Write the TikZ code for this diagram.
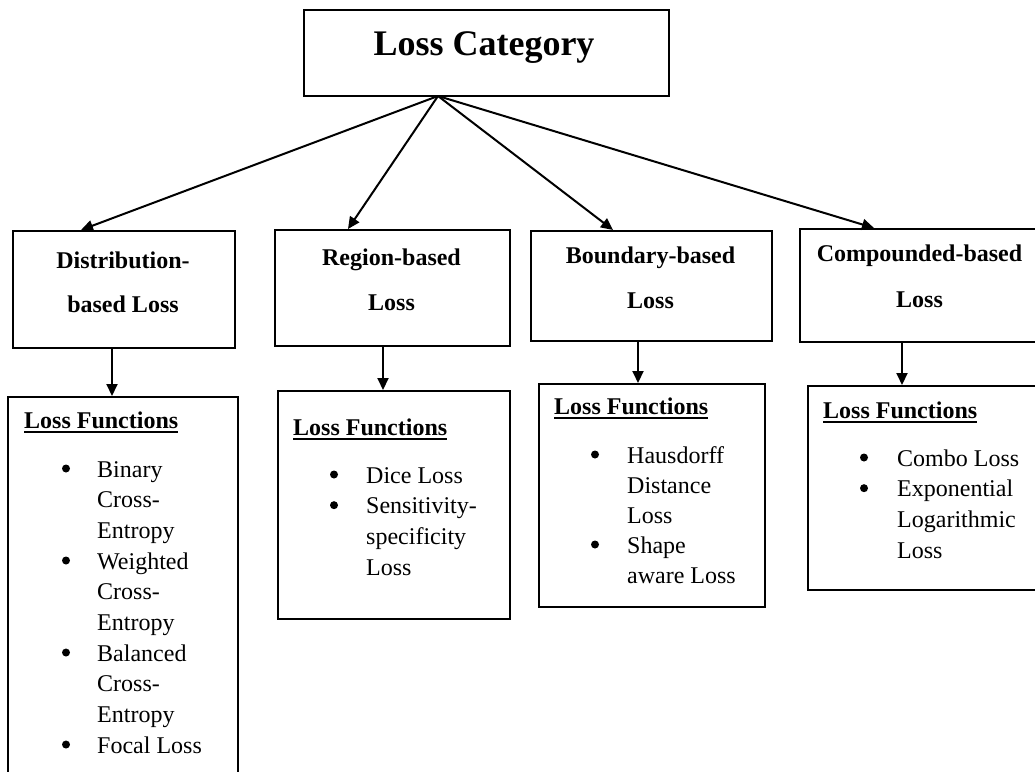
\documentclass[tikz,border=0pt]{standalone}
\usepackage{fontspec}
\setmainfont{Liberation Serif}
\usetikzlibrary{arrows.meta}
\begin{document}
\begin{tikzpicture}[x=1pt,y=-1pt,
  box/.style={draw=black, line width=2pt, anchor=north west, inner sep=0pt},
  arr/.style={line width=2pt, -{Triangle[length=12pt,width=11pt]}},
  lbl/.style={inner sep=0pt, anchor=base, font=\fontsize{24}{28}\selectfont\bfseries},
  hdr/.style={inner sep=0pt, anchor=base west, font=\fontsize{24}{28}\selectfont\bfseries},
  item/.style={inner sep=0pt, anchor=base west, font=\fontsize{24}{28}\selectfont},
  dot/.style={circle, fill=black, inner sep=0pt, minimum size=8pt},
  uline/.style={line width=1.6pt}
]
\clip (0,0) rectangle (1035,771);
\fill[white] (0,0) rectangle (1035,771);

% category boxes
\node[box, minimum width=365, minimum height=86] (top) at (303,9) {};
\node[box, minimum width=222, minimum height=117] (d1) at (12,230) {};
\node[box, minimum width=235, minimum height=116] (d2) at (274,229) {};
\node[box, minimum width=241, minimum height=110] (d3) at (530,230) {};
\node[box, minimum width=241, minimum height=113] (d4) at (799,228) {};

% loss function boxes
\node[box, minimum width=230, minimum height=400] (f1) at (7,396) {};
\node[box, minimum width=232, minimum height=228] (f2) at (277,390) {};
\node[box, minimum width=226, minimum height=223] (f3) at (538,383) {};
\node[box, minimum width=233, minimum height=204] (f4) at (807,385) {};

% title
\node[inner sep=0pt, anchor=base, font=\fontsize{36}{40}\selectfont\bfseries] (tt) at (484,55) {Loss Category};

% category labels
\node[lbl] (d1a) at (123,268) {Distribution-};
\node[lbl] (d1b) at (123,312) {based Loss};
\node[lbl] (d2a) at (391.5,265) {Region-based};
\node[lbl] (d2b) at (391.5,310) {Loss};
\node[lbl] (d3a) at (650.5,263) {Boundary-based};
\node[lbl] (d3b) at (650.5,308) {Loss};
\node[lbl] (d4a) at (919.5,261) {Compounded-based};
\node[lbl] (d4b) at (919.5,307) {Loss};

% arrows from the title box
\coordinate (hub) at (438,96);
\draw[arr] (hub) -- ([xshift=-43pt]d1.north);
\draw[arr] (hub) -- ([xshift=-44.5pt]d2.north);
\draw[arr] (hub) -- ([xshift=-38.5pt]d3.north);
\draw[arr] (hub) -- ([xshift=-46.5pt]d4.north);

% arrows down to the function boxes
\coordinate (c1) at (112,0);
\coordinate (c2) at (383,0);
\coordinate (c3) at (638,0);
\coordinate (c4) at (902,0);
\draw[arr] (d1.south -| c1) -- (f1.north -| c1);
\draw[arr] (d2.south -| c2) -- (f2.north -| c2);
\draw[arr] (d3.south -| c3) -- (f3.north -| c3);
\draw[arr] (d4.south -| c4) -- (f4.north -| c4);

% headers
\node[hdr] (h1) at (24,428) {Loss Functions};
\node[hdr] (h2) at (293,435) {Loss Functions};
\node[hdr] (h3) at (554,414) {Loss Functions};
\node[hdr] (h4) at (823,418) {Loss Functions};
\foreach \h in {h1,h2,h3,h4}
  \draw[uline] ([yshift=-4pt]\h.base west) -- ([yshift=-4pt]\h.base east);

% distribution-based list
\foreach \t [count=\k from 0] in {Binary,Cross-,Entropy,Weighted,Cross-,Entropy,Balanced,Cross-,Entropy,Focal Loss}
  \node[item] (f1l\k) at (97,477+30.67*\k) {\t};
\foreach \k in {0,3,6,9}
  \node[dot] (f1b\k) at (66,468.5+30.67*\k) {};

% region-based list
\foreach \t [count=\k from 0] in {Dice Loss,Sensitivity-,specificity,Loss}
  \node[item] (f2l\k) at (366,483+30.67*\k) {\t};
\foreach \k in {0,1}
  \node[dot] (f2b\k) at (334,474.5+30.67*\k) {};

% boundary-based list
\foreach \t [count=\k from 0] in {Hausdorff,Distance,Loss,Shape,aware Loss}
  \node[item] (f3l\k) at (627,463+30*\k) {\t};
\foreach \k in {0,3}
  \node[dot] (f3b\k) at (595,454.5+30*\k) {};

% compounded-based list
\foreach \t [count=\k from 0] in {Combo Loss,Exponential,Logarithmic,Loss}
  \node[item] (f4l\k) at (897,466+30.67*\k) {\t};
\foreach \k in {0,1}
  \node[dot] (f4b\k) at (864,457.5+30.67*\k) {};
\end{tikzpicture}
\end{document}
